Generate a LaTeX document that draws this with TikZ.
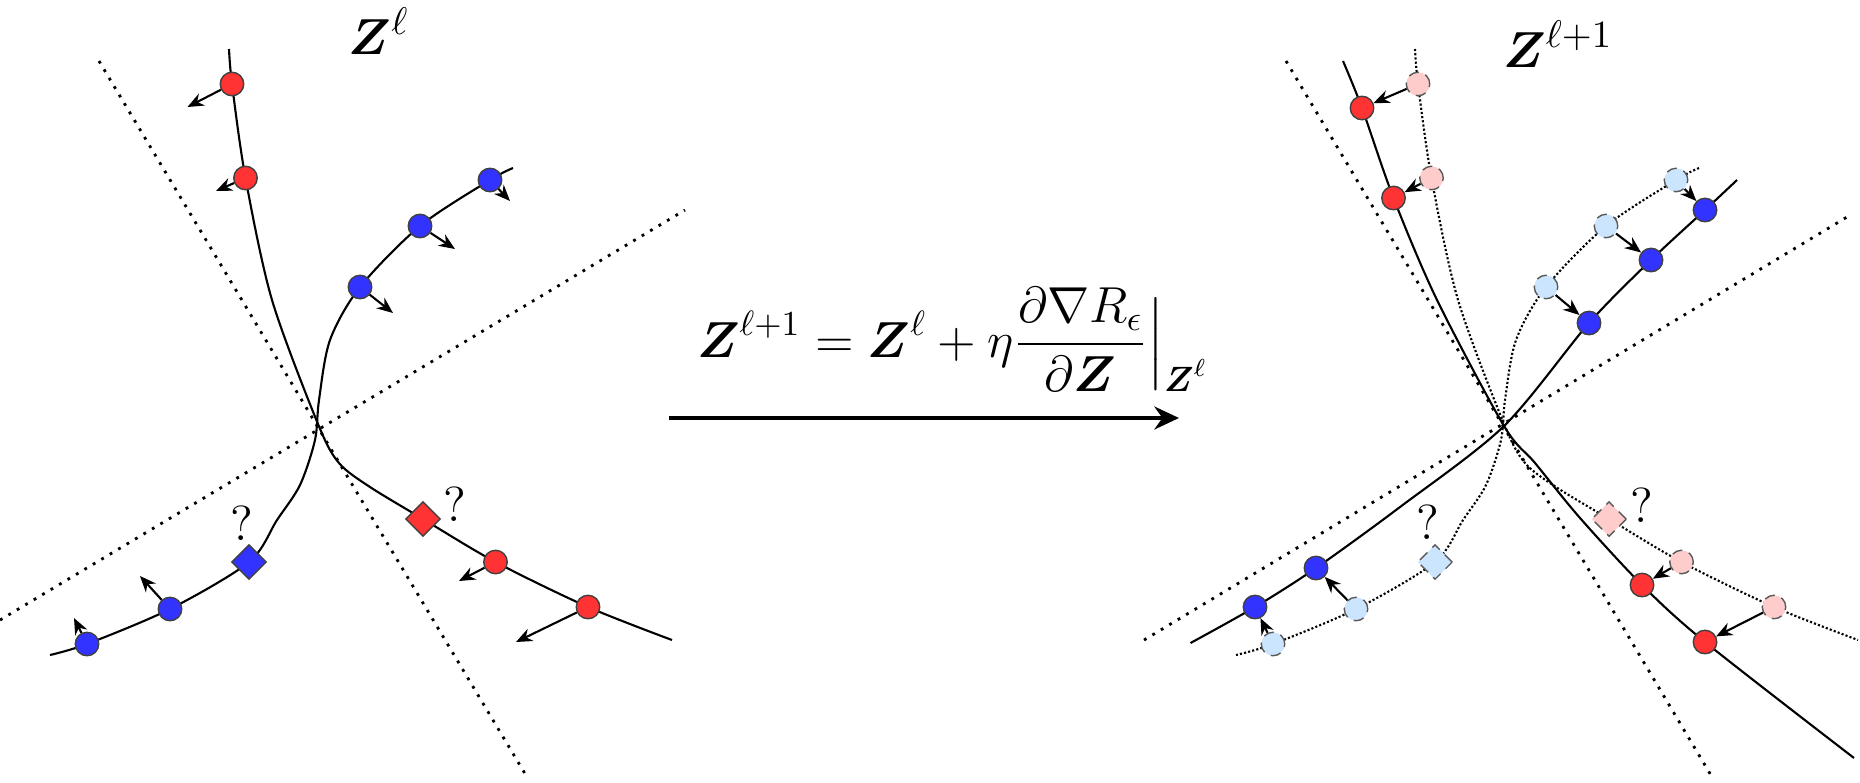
\documentclass[tikz,border=0pt]{standalone}
\usepackage{amsmath}
\usetikzlibrary{arrows.meta,shapes.geometric}

\definecolor{dotred}{RGB}{255,51,51}
\definecolor{dotblue}{RGB}{51,51,255}
\definecolor{fadered}{RGB}{255,204,204}
\definecolor{fadeblue}{RGB}{204,229,255}

\begin{document}
\begin{tikzpicture}[x=1cm, y=-1cm,
  reddot/.style = {circle,draw=black!75,line width=0.4pt,fill=dotred,minimum size=0.235cm,inner sep=0pt},
  bluedot/.style = {reddot,fill=dotblue},
  oldred/.style = {reddot,fill=fadered,draw=black!65,densely dashed},
  oldblue/.style = {oldred,fill=fadeblue},
  reddiam/.style = {diamond,draw=black!75,line width=0.4pt,fill=dotred,minimum width=0.35cm,minimum height=0.35cm,inner sep=0pt},
  bluediam/.style = {reddiam,fill=dotblue},
  oldreddiam/.style = {reddiam,fill=fadered,draw=black!65,densely dashed},
  oldbluediam/.style = {oldreddiam,fill=fadeblue},
  curve/.style = {semithick},
  olddots/.style = {line width=0.6pt,dash pattern=on 0.6pt off 0.6pt},
  divider/.style = {thick,dotted},
  push/.style = {semithick,-{Stealth[length=4.6pt,width=3.8pt]}},
  query/.style = {inner sep=0pt,font=\fontsize{14}{16}\selectfont},
  title/.style = {font=\fontsize{15}{18}\selectfont}]
\useasboundingbox (0,0) rectangle (18.6,7.82);

% left panel
\draw[divider] (0.99,0.61) -- (5.27,7.77);
\draw[divider] (0,6.20) -- (6.85,2.10);
\draw[curve] plot[smooth] coordinates {(2.29,0.49) (2.32,0.84) (2.455,1.78) (2.72,3.00) (3.18,4.24) (3.39,4.63) (3.70,4.87) (4.23,5.19) (4.955,5.62) (5.88,6.07) (6.72,6.40)};
\draw[curve] plot[smooth] coordinates {(5.13,1.68) (4.90,1.80) (4.20,2.26) (3.60,2.87) (3.30,3.40) (3.19,4.00) (3.15,4.40) (3.00,4.85) (2.77,5.20) (2.49,5.62) (1.70,6.09) (0.87,6.44) (0.50,6.55)};

\node[title] (zl) at (3.79,0.31) {$\boldsymbol{Z}^{\ell}$};

\node[reddot] (r1) at (2.32,0.84) {};
\node[reddot] (r2) at (2.455,1.78) {};
\node[reddot] (r3) at (4.955,5.62) {};
\node[reddot] (r4) at (5.88,6.07) {};
\node[reddiam] (rq) at (4.23,5.19) {};
\node[bluedot] (b1) at (4.90,1.80) {};
\node[bluedot] (b2) at (4.20,2.26) {};
\node[bluedot] (b3) at (3.60,2.87) {};
\node[bluedot] (b4) at (1.70,6.09) {};
\node[bluedot] (b5) at (0.87,6.44) {};
\node[bluediam] (bq) at (2.49,5.62) {};
\node[query] (rqm) at (4.55,5.045) {?};
\node[query] (bqm) at (2.415,5.23) {?};

\coordinate (r1e) at (1.875,1.07);
\coordinate (r2e) at (2.16,1.91);
\coordinate (r3e) at (4.59,5.81);
\coordinate (r4e) at (5.16,6.42);
\coordinate (b1e) at (5.10,2.01);
\coordinate (b2e) at (4.55,2.49);
\coordinate (b3e) at (3.93,3.13);
\coordinate (b4e) at (1.40,5.76);
\coordinate (b5e) at (0.74,6.18);

\draw[push] (r1) -- (r1e);
\draw[push] (r2) -- (r2e);
\draw[push] (r3) -- (r3e);
\draw[push] (r4) -- (r4e);
\draw[push] (b1) -- (b1e);
\draw[push] (b2) -- (b2e);
\draw[push] (b3) -- (b3e);
\draw[push] (b4) -- (b4e);
\draw[push] (b5) -- (b5e);

% update step
\node[anchor=base,font=\fontsize{14.5}{17}\selectfont] (upd) at (9.53,3.57)
  {$\displaystyle \boldsymbol{Z}^{\ell+1} = \boldsymbol{Z}^{\ell} + \eta \frac{\partial \nabla R_{\epsilon}}{\partial \boldsymbol{Z}}\Big|_{\boldsymbol{Z}^{\ell}}$};
\coordinate (s0) at (6.69,4.18);
\coordinate (s1) at (11.79,4.18);
\draw[line width=1.15pt,-{Stealth[length=7pt,width=6.5pt]}] (s0) -- (s1);

% right panel
\draw[divider] (12.86,0.61) -- (17.12,7.77);
\draw[divider] (11.44,6.40) -- (18.47,2.17);

\begin{scope}[xshift=11.86cm]
\draw[olddots] plot[smooth] coordinates {(2.29,0.49) (2.32,0.84) (2.455,1.78) (2.72,3.00) (3.18,4.24) (3.39,4.63) (3.70,4.87) (4.23,5.19) (4.955,5.62) (5.88,6.07) (6.72,6.40)};
\draw[olddots] plot[smooth] coordinates {(5.13,1.68) (4.90,1.80) (4.20,2.26) (3.60,2.87) (3.30,3.40) (3.19,4.00) (3.15,4.40) (3.00,4.85) (2.77,5.20) (2.49,5.62) (1.70,6.09) (0.87,6.44) (0.50,6.55)};
\node[oldred] (or1) at (2.32,0.84) {};
\node[oldred] (or2) at (2.455,1.78) {};
\node[oldred] (or3) at (4.955,5.62) {};
\node[oldred] (or4) at (5.88,6.07) {};
\node[oldreddiam] (orq) at (4.23,5.19) {};
\node[oldblue] (ob1) at (4.90,1.80) {};
\node[oldblue] (ob2) at (4.20,2.26) {};
\node[oldblue] (ob3) at (3.60,2.87) {};
\node[oldblue] (ob4) at (1.70,6.09) {};
\node[oldblue] (ob5) at (0.87,6.44) {};
\node[oldbluediam] (obq) at (2.49,5.62) {};
\end{scope}

\draw[curve] plot[smooth] coordinates {(13.43,0.61) (13.62,1.08) (13.935,1.98) (14.37,3.00) (15.04,4.26) (15.35,4.63) (15.80,5.18) (16.42,5.85) (17.05,6.42) (18.54,7.58)};
\draw[curve] plot[smooth] coordinates {(11.905,6.43) (12.55,6.07) (13.16,5.68) (14.00,5.07) (15.04,4.26) (15.89,3.23) (16.51,2.60) (17.05,2.10) (17.37,1.80)};

\node[title] (zl1) at (15.58,0.44) {$\boldsymbol{Z}^{\ell+1}$};

\node[reddot] (nr1) at (13.62,1.08) {};
\node[reddot] (nr2) at (13.935,1.98) {};
\node[reddot] (nr3) at (16.42,5.85) {};
\node[reddot] (nr4) at (17.05,6.42) {};
\node[bluedot] (nb1) at (17.05,2.10) {};
\node[bluedot] (nb2) at (16.51,2.60) {};
\node[bluedot] (nb3) at (15.89,3.23) {};
\node[bluedot] (nb4) at (13.16,5.68) {};
\node[bluedot] (nb5) at (12.55,6.07) {};
\node[query] (orqm) at (16.415,5.05) {?};
\node[query] (obqm) at (14.28,5.225) {?};

\draw[push] (or1) -- (nr1);
\draw[push] (or2) -- (nr2);
\draw[push] (or3) -- (nr3);
\draw[push] (or4) -- (nr4);
\draw[push] (ob1) -- (nb1);
\draw[push] (ob2) -- (nb2);
\draw[push] (ob3) -- (nb3);
\draw[push] (ob4) -- (nb4);
\draw[push] (ob5) -- (nb5);
\end{tikzpicture}
\end{document}
